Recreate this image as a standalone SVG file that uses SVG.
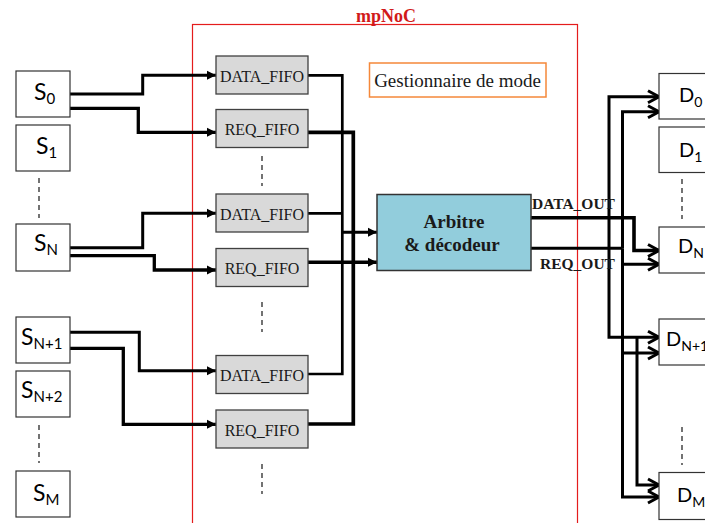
<svg xmlns="http://www.w3.org/2000/svg" width="705" height="523" viewBox="0 0 705 523">
<defs>
<style>
.box{fill:#fff;stroke:#333;stroke-width:1.2}
.fifo{fill:#d9d9d9;stroke:#404040;stroke-width:1.3}
.lbl{font-family:Lato,"Open Sans",sans-serif;fill:#000}
.ser{font-family:"Liberation Serif","Times New Roman",serif;fill:#1a1a1a}
.ln{fill:none;stroke:#000;stroke-width:3;stroke-linejoin:miter}
.dash{fill:none;stroke:#000;stroke-width:1.1;stroke-dasharray:5,4}
</style>
<marker id="tri" markerUnits="userSpaceOnUse" markerWidth="10" markerHeight="10" refX="9" refY="4.5" orient="auto" overflow="visible">
<path d="M0,0 L9,4.5 L0,9 z" fill="#000"/>
</marker>
<marker id="chev" markerUnits="userSpaceOnUse" markerWidth="14" markerHeight="14" refX="11" refY="6" orient="auto" overflow="visible">
<path d="M0,0 L11,6 L0,12" fill="none" stroke="#000" stroke-width="3"/>
</marker>
</defs>

<g id="mpNoC">
<rect x="192.5" y="24.5" width="385" height="520" fill="none" stroke="#e41c1c" stroke-width="1.2"/>
<text x="386" y="22" text-anchor="middle" font-family="Liberation Serif,serif" font-weight="bold" font-size="18" fill="#d11a1a">mpNoC</text>
</g>

<g id="connectors">
<path class="ln" d="M70,94 H142.7 V75.3 H216" marker-end="url(#tri)"/>
<path class="ln" d="M70,108.3 H138.3 V132.3 H216" marker-end="url(#tri)" style="stroke-width:3.3"/>
<path class="ln" d="M70,247.7 H142.7 V213.3 H216" marker-end="url(#tri)"/>
<path class="ln" d="M70,255.7 H154.3 V270 H216" marker-end="url(#tri)" style="stroke-width:3.3"/>
<path class="ln" d="M70,332.3 H139.3 V370.7 H216" marker-end="url(#tri)"/>
<path class="ln" d="M70,348.3 H123.3 V424.3 H216" marker-end="url(#tri)" style="stroke-width:3.3"/>

<path class="ln" d="M308,75.3 H342.3 V374 H308" style="stroke-width:2.7"/>
<path class="ln" d="M308,213.3 H342.3" style="stroke-width:2.7"/>
<path class="ln" d="M342.3,232.3 H377" marker-end="url(#tri)"/>
<path class="ln" d="M308,132.3 H353.3 V424 H308" style="stroke-width:3.7"/>
<path class="ln" d="M308,262.3 H377" marker-end="url(#tri)" style="stroke-width:3.5"/>

<path class="ln" d="M531,217.7 H634 V250.5 H659" marker-end="url(#chev)" style="stroke-width:3.6"/>
<path class="ln" d="M531,248.3 H622.5"/>
<path class="ln" d="M609,217.7 V96.7 H659" marker-end="url(#chev)"/>
<path class="ln" d="M609,217.7 V337.3 H659" marker-end="url(#chev)"/>
<path class="ln" d="M637,337.3 V485 H659" marker-end="url(#chev)"/>
<path class="ln" d="M622.5,248.3 V111.7 H659" marker-end="url(#chev)"/>
<path class="ln" d="M622.5,248.3 V497 H659" marker-end="url(#chev)"/>
<path class="ln" d="M622.5,264.3 H659" marker-end="url(#chev)"/>
<path class="ln" d="M622.5,353 H659" marker-end="url(#chev)"/>
</g>

<g id="dashes">
<path class="dash" d="M39,178 V218 M39,425 V463 M262,156 V186 M262,302 V332 M262,464 V494 M682,179 V219 M682,427 V465"/>
</g>

<g id="S0"><rect class="box" x="16" y="71" width="54" height="46"/><text class="lbl" x="34" y="100" font-size="23">S<tspan font-size="15" dy="4">0</tspan></text></g>
<g id="S1"><rect class="box" x="16" y="125" width="54" height="46"/><text class="lbl" x="36" y="154" font-size="23">S<tspan font-size="15" dy="4">1</tspan></text></g>
<g id="SN"><rect class="box" x="16" y="224" width="54" height="47"/><text class="lbl" x="34" y="251" font-size="23">S<tspan font-size="15" dy="4">N</tspan></text></g>
<g id="SN1"><rect class="box" x="16" y="317" width="54" height="46"/><text class="lbl" x="21" y="345" font-size="23">S<tspan font-size="15" dy="4">N+1</tspan></text></g>
<g id="SN2"><rect class="box" x="16" y="371" width="54" height="46"/><text class="lbl" x="21" y="398" font-size="23">S<tspan font-size="15" dy="4">N+2</tspan></text></g>
<g id="SM"><rect class="box" x="16" y="471" width="54" height="46"/><text class="lbl" x="33" y="501" font-size="23">S<tspan font-size="15" dy="4">M</tspan></text></g>

<g id="DATA_FIFO1"><rect class="fifo" x="216" y="56" width="92" height="38"/><text class="ser" x="262" y="81.5" text-anchor="middle" font-size="16">DATA_FIFO</text></g>
<g id="REQ_FIFO1"><rect class="fifo" x="216" y="109.5" width="92" height="38"/><text class="ser" x="262" y="135" text-anchor="middle" font-size="16">REQ_FIFO</text></g>
<g id="DATA_FIFO2"><rect class="fifo" x="216" y="194" width="92" height="38"/><text class="ser" x="262" y="219.5" text-anchor="middle" font-size="16">DATA_FIFO</text></g>
<g id="REQ_FIFO2"><rect class="fifo" x="216" y="248.5" width="92" height="38"/><text class="ser" x="262" y="274" text-anchor="middle" font-size="16">REQ_FIFO</text></g>
<g id="DATA_FIFO3"><rect class="fifo" x="216" y="355.5" width="92" height="38"/><text class="ser" x="262" y="381" text-anchor="middle" font-size="16">DATA_FIFO</text></g>
<g id="REQ_FIFO3"><rect class="fifo" x="216" y="410" width="92" height="38"/><text class="ser" x="262" y="435.5" text-anchor="middle" font-size="16">REQ_FIFO</text></g>

<g id="gestionnaire"><rect x="369.5" y="63" width="176.5" height="34" fill="#fff" stroke="#f5883a" stroke-width="1.5"/><text class="ser" x="457.5" y="86.5" text-anchor="middle" font-size="19">Gestionnaire de mode</text></g>

<g id="arbitre"><rect x="377" y="194.5" width="154" height="76" fill="#92cddc" stroke="#333" stroke-width="1.5"/>
<text class="ser" x="454" y="228" text-anchor="middle" font-size="19" font-weight="bold">Arbitre</text>
<text class="ser" x="452" y="251" text-anchor="middle" font-size="19" font-weight="bold">&amp; décodeur</text></g>

<g id="out-labels">
<text class="ser" x="532" y="209" font-size="15.5" font-weight="bold">DATA_OUT</text>
<text class="ser" x="540" y="269" font-size="15.5" font-weight="bold">REQ_OUT</text>
</g>

<g id="D0"><rect class="box" x="659" y="73.5" width="54" height="45.5"/><text class="lbl" x="679" y="101.5" font-size="20">D<tspan font-size="14" dy="5">0</tspan></text></g>
<g id="D1"><rect class="box" x="659" y="127" width="54" height="45.5"/><text class="lbl" x="679" y="156.5" font-size="20">D<tspan font-size="14" dy="5">1</tspan></text></g>
<g id="DN"><rect class="box" x="659" y="227" width="54" height="46"/><text class="lbl" x="678" y="253" font-size="20">D<tspan font-size="14" dy="5">N</tspan></text></g>
<g id="DN1"><rect class="box" x="659" y="319" width="54" height="46"/><text class="lbl" x="666" y="346" font-size="20">D<tspan font-size="14" dy="5">N+1</tspan></text></g>
<g id="DM"><rect class="box" x="659" y="472.5" width="54" height="47"/><text class="lbl" x="677" y="502" font-size="20">D<tspan font-size="14" dy="5">M</tspan></text></g>
</svg>
